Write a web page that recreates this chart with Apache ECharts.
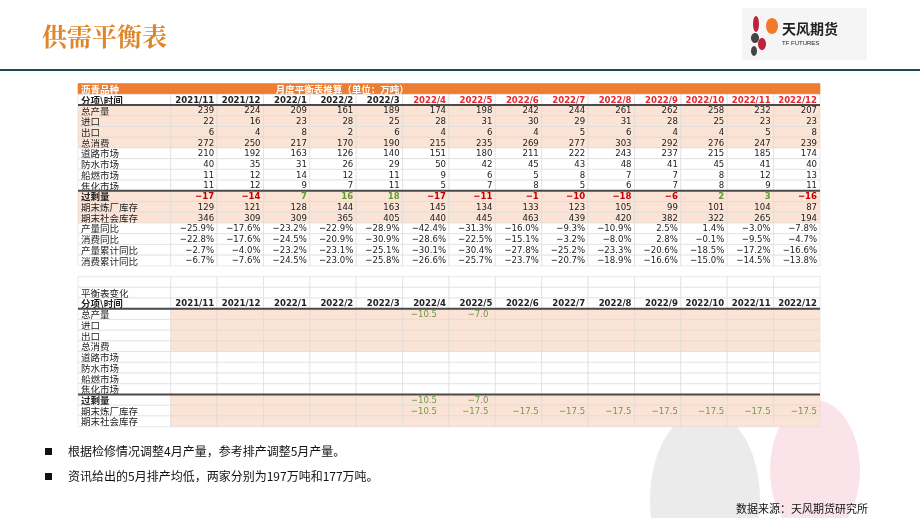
<!DOCTYPE html>
<html><head><meta charset="utf-8">
<script src="https://cdn.jsdelivr.net/npm/echarts@6/dist/echarts.min.js"></script>
<style>html,body{margin:0;padding:0;background:#fff}#c{width:920px;height:518px}</style>
</head><body><div id="c"></div>
<script>
const months = ['2021/11','2021/12','2022/1','2022/2','2022/3','2022/4','2022/5','2022/6','2022/7','2022/8','2022/9','2022/10','2022/11','2022/12'];
const rowLabels = ['总产量','进口','出口','总消费','道路市场','防水市场','船燃市场','焦化市场','过剩量','期末炼厂库存','期末社会库存'];
const pctLabels = ['产量同比','消费同比','产量累计同比','消费累计同比'];
const prod   = [239,224,209,161,189,174,198,242,244,261,262,258,232,207];
const imp    = [22,16,23,28,25,28,31,30,29,31,28,25,23,23];
const exp    = [6,4,8,2,6,4,6,4,5,6,4,4,5,8];
const cons   = [272,250,217,170,190,215,235,269,277,303,292,276,247,239];
const road   = [210,192,163,126,140,151,180,211,222,243,237,215,185,174];
const water  = [40,35,31,26,29,50,42,45,43,48,41,45,41,40];
const ship   = [11,12,14,12,11,9,6,5,8,7,7,8,12,13];
const coke   = [11,12,9,7,11,5,7,8,5,6,7,8,9,11];
const surplus= [-17,-14,7,16,18,-17,-11,-1,-10,-18,-6,2,3,-16];
const refInv = [129,121,128,144,163,145,134,133,123,105,99,101,104,87];
const socInv = [346,309,309,365,405,440,445,463,439,420,382,322,265,194];
const prodYoY= [-25.9,-17.6,-23.2,-22.9,-28.9,-42.4,-31.3,-16.0,-9.3,-10.9,2.5,1.4,-3.0,-7.8];
const consYoY= [-22.8,-17.6,-24.5,-20.9,-30.9,-28.6,-22.5,-15.1,-3.2,-8.0,2.8,-0.1,-9.5,-4.7];
const prodCum= [-2.7,-4.0,-23.2,-23.1,-25.1,-30.1,-30.4,-27.8,-25.2,-23.3,-20.6,-18.5,-17.2,-16.6];
const consCum= [-6.7,-7.6,-24.5,-23.0,-25.8,-26.6,-25.7,-23.7,-20.7,-18.9,-16.6,-15.0,-14.5,-13.8];
const chgProd   = [null,null,null,null,null,-10.5,-7.0,null,null,null,null,null,null,null];
const chgSurplus= [null,null,null,null,null,-10.5,-7.0,null,null,null,null,null,null,null];
const chgRefInv = [null,null,null,null,null,-10.5,-17.5,-17.5,-17.5,-17.5,-17.5,-17.5,-17.5,-17.5];

const PEACH='#FBE4D5', ORANGE='#ED7D31', GRID='#DADADA';
const cells=[];
function cell(x0,x1,r,text,o){cells.push(Object.assign({x0,x1,r,text,fill:'#fff',color:'#222',bold:false,align:'right'},o||{}));}
cell(0,16,0,'',{fill:ORANGE});
cell(0,2,0,'沥青品种',{color:'#fff',bold:true,align:'left',nofill:true});
cell(4.9,6.5,0,'月度平衡表推算（单位：万吨）',{color:'#fff',bold:true,align:'center',nofill:true});
cell(0,2,1,'分项\\时间',{bold:true,align:'left'});
months.forEach((m,i)=>cell(2+i,3+i,1,m,{bold:true,color:i>=5?'#E8282B':'#222'}));
const upper=[prod,imp,exp,cons,road,water,ship,coke,surplus,refInv,socInv];
upper.forEach((arr,k)=>{
  const r=2+k; const peach=(k<4||k>=8);
  cell(0,2,r,rowLabels[k],{align:'left',fill:peach?PEACH:'#fff',bold:k===8});
  arr.forEach((v,i)=>{
    let o={fill:peach?PEACH:'#fff'};
    if(k===8){o.bold=true;o.color=v<0?'#C00000':'#5E9E2E';}
    cell(2+i,3+i,r,v<0?'\u2212'+Math.abs(v):String(v),o);
  });
});
[prodYoY,consYoY,prodCum,consCum].forEach((arr,k)=>{
  const r=13+k;
  cell(0,2,r,pctLabels[k],{align:'left'});
  arr.forEach((v,i)=>cell(2+i,3+i,r,(v<0?'\u2212':'')+Math.abs(v).toFixed(1)+'%',{}));
});
for(let i=-1;i<14;i++){ i<0?cell(0,2,18,''):cell(2+i,3+i,18,''); }
cell(0,2,19,'平衡表变化',{align:'left'});
for(let i=0;i<14;i++) cell(2+i,3+i,19,'');
cell(0,2,20,'分项\\时间',{bold:true,align:'left'});
months.forEach((m,i)=>cell(2+i,3+i,20,m,{bold:true}));
const lowerData=[chgProd,null,null,null,null,null,null,null,chgSurplus,chgRefInv,null];
rowLabels.forEach((lab,k)=>{
  const r=21+k; const peach=(k<4||k>=8);
  cell(0,2,r,lab,{align:'left',bold:k===8});
  for(let i=0;i<14;i++){
    const arr=lowerData[k]; const v=arr?arr[i]:null;
    cell(2+i,3+i,r,v==null?'':'\u2212'+Math.abs(v).toFixed(1),{fill:peach?PEACH:'#fff',color:'#6E9A4A',pad:i===5?12:(i===6?7:3)});
  }
});
const rules=[1,9,20,28];

const chart=echarts.init(document.getElementById('c'));
chart.setOption({
  animation:false,
  grid:{left:78,right:100,top:83.6,bottom:80.6},
  xAxis:{type:'value',min:0,max:16,show:false},
  yAxis:{type:'value',min:-0.5,max:32.5,inverse:true,show:false},
  graphic:[
    {type:'ellipse',shape:{cx:705,cy:500,rx:55,ry:90},style:{fill:'#EBEBEB'},z:-10},
    {type:'ellipse',shape:{cx:815,cy:470,rx:45,ry:70},style:{fill:'#FBE3EA'},z:-10},
    {type:'text',left:42,top:24,style:{text:'供需平衡表',font:'bold 25px "Noto Serif CJK SC","Noto Sans CJK SC",serif',fill:'#E0862A'}},
    {type:'rect',shape:{x:0,y:69,width:920,height:2},style:{fill:'#1F4756'}},
    {type:'rect',shape:{x:742,y:8,width:125,height:52},style:{fill:'#F5F5F5'}},
    {type:'ellipse',shape:{cx:756,cy:24,rx:3,ry:8},style:{fill:'#C0203A'}},
    {type:'ellipse',shape:{cx:762,cy:44,rx:4,ry:6},style:{fill:'#C0203A'}},
    {type:'ellipse',shape:{cx:772,cy:26,rx:6,ry:8},style:{fill:'#F07A2A'}},
    {type:'ellipse',shape:{cx:755,cy:38,rx:4,ry:5},style:{fill:'#444'}},
    {type:'ellipse',shape:{cx:754,cy:51,rx:3,ry:5},style:{fill:'#444'}},
    {type:'text',left:782,top:22,style:{text:'天风期货',font:'bold 14px "Noto Sans CJK SC"',fill:'#222'}},
    {type:'text',left:782,top:40,style:{text:'TF FUTURES',font:'6px "Liberation Sans"',fill:'#222'}},
    {type:'rect',shape:{x:45,y:448,width:7,height:7},style:{fill:'#111'}},
    {type:'text',left:68,top:445,style:{text:'根据检修情况调整4月产量，参考排产调整5月产量。',font:'12px "Noto Sans CJK SC"',fill:'#111'}},
    {type:'rect',shape:{x:45,y:473,width:7,height:7},style:{fill:'#111'}},
    {type:'text',left:68,top:470,style:{text:'资讯给出的5月排产均低，两家分别为197万吨和177万吨。',font:'12px "Noto Sans CJK SC"',fill:'#111'}},
    {type:'text',right:52,top:503,style:{text:'数据来源：天风期货研究所',font:'11px "Noto Sans CJK SC"',fill:'#111'}}
  ],
  series:[{
    type:'custom',
    data:cells.map((c,i)=>[c.x0,c.r,i]),
    encode:{x:0,y:1},
    renderItem:function(params,api){
      const c=cells[api.value(2)];
      const p0=api.coord([c.x0,c.r-0.5]), p1=api.coord([c.x1,c.r+0.5]);
      const w=p1[0]-p0[0], h=p1[1]-p0[1];
      const children=[];
      if(!c.nofill) children.push({type:'rect',shape:{x:p0[0],y:p0[1],width:w,height:h},style:{fill:c.fill,stroke:c.r===0?c.fill:GRID,lineWidth:0.6}});
      if(c.text){
        const pad=c.pad||3;
        let tx=c.align==='left'?p0[0]+3:(c.align==='center'?p0[0]+w/2:p1[0]-pad);
        const cjk=/[\u4e00-\u9fff]/.test(c.text);
        children.push({type:'text',style:{text:c.text,x:tx,y:p0[1]+h/2+0.5,align:c.align,verticalAlign:'middle',fill:c.color,
          font:(c.bold?'bold ':'')+(cjk?'9.5px "Noto Sans CJK SC"':'9.5px "DejaVu Sans Condensed","DejaVu Sans"')}});
      }
      return {type:'group',children};
    },
    z:2
  },{
    type:'custom',
    data:rules.map(r=>[0,r]),
    encode:{x:0,y:1},
    renderItem:function(params,api){
      const r=api.value(1);
      const a=api.coord([0,r+0.5]), b=api.coord([16,r+0.5]);
      return {type:'line',shape:{x1:a[0],y1:a[1],x2:b[0],y2:b[1]},style:{stroke:'#4A4A4A',lineWidth:2}};
    },
    z:3
  }]
});
</script></body></html>
